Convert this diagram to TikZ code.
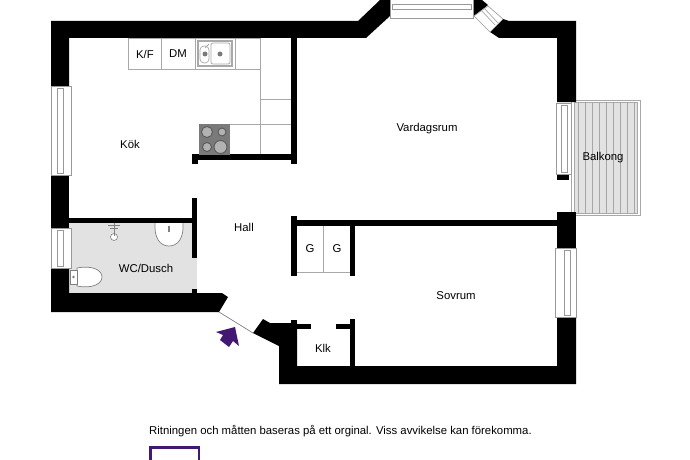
\documentclass[tikz,border=0pt]{standalone}
\usepackage{fontspec}
\setmainfont{Liberation Sans}
\usetikzlibrary{positioning}
\definecolor{arrowpurple}{HTML}{431870}
\definecolor{wetgray}{HTML}{E2E2E2}
\definecolor{fitgray}{HTML}{A8A8A8}
\definecolor{hobgray}{HTML}{7A7A7A}
\tikzset{
    wall/.style={fill=black,draw=none},
    fitting/.style={draw=fitgray,line width=0.7pt},
    winframe/.style={draw=gray!80,line width=0.6pt,fill=white},
    roomlabel/.style={font=\fontsize{11.35}{13}\selectfont,inner sep=0pt},
    burner/.style={draw=black!65,fill=black!30,line width=0.9pt}
}

\begin{document}
\begin{tikzpicture}[x=1pt,y=-1pt]
    \useasboundingbox (0,0) rectangle (690,460);

    % Balcony
    \draw[fitting,fill=white] (571,100) rectangle (640,215);
    \draw[fitting,fill=wetgray] (574,102.5) rectangle (637,213);
    \foreach \x in {578,585,592,599,606,613,620,627,634}
        \draw[fitting,line width=0.6pt,draw=black!35] (\x,102.5) -- (\x,213);

    % Bathroom floor
    \fill[wetgray] (69,223) rectangle (197,293);

    % Outer walls
    \fill[wall] (51,21) -- (358,21) -- (380,0) -- (390,0) -- (390,16) -- (366,38)
        -- (69,38) -- (69,86) -- (51,86) -- cycle; % Top left
    \fill[wall] (503,19) -- (509,21) -- (576,21) -- (576,102) -- (557,102) -- (557,38)
        -- (499,38) -- (490,32) -- cycle; % Top right
    \fill[wall] (473,0) -- (482,0) -- (488,5) -- (474,16) -- (473,16) -- cycle; % Bay pier
    \fill[wall] (557,175) rectangle (569,180); % Balcony door stop
    \fill[wall] (557,212) rectangle (576,248); % Right
    \fill[wall] (51,175) rectangle (69,228); % Left
    \fill[wall] (51,268) -- (69,268) -- (69,293) -- (222,293) -- (228,297)
        -- (219,312) -- (51,312) -- cycle; % Bottom left
    \fill[wall] (263,319) -- (270,323) -- (297,323) -- (297,366) -- (557,366)
        -- (557,317) -- (576,317) -- (576,384) -- (279,384) -- (279,346)
        -- (253,333) -- cycle; % Bottom right

    % Inner walls
    \fill[wall] (291,38) rectangle (297,164); % Kitchen right
    \fill[wall] (192,154) rectangle (291,159.5); % Kitchen bottom
    \fill[wall] (192,159) rectangle (197.5,164);
    \fill[wall] (69,218) rectangle (192,223); % Bathroom top
    \fill[wall] (192,198) rectangle (197,258); % Bathroom right
    \fill[wall] (192,289) rectangle (197,293);
    \fill[wall] (291,216) rectangle (297,276); % Closet left
    \fill[wall] (297,220) rectangle (557,226); % Bedroom top
    \fill[wall] (350,226) rectangle (355,276); % Closet right
    \fill[wall] (291,320) rectangle (297,324);
    \fill[wall] (297,324) rectangle (311,329); % Klk door
    \fill[wall] (336,324) rectangle (350,329);
    \fill[wall] (350,319) rectangle (355,366); % Klk right

    % Windows
    \draw[winframe] (51.5,86) rectangle (71.5,175);
    \draw[winframe] (57,88) rectangle (63,173);
    \draw[winframe] (51.5,228) rectangle (71.5,268);
    \draw[winframe] (57,230) rectangle (63,266);
    \draw[winframe] (390,-1) rectangle (473,18);
    \draw[winframe] (392,4) rectangle (471,9);
    \draw[winframe] (474,16) -- (488,6) -- (503,19) -- (490,32) -- cycle;
    \draw[fitting] (481,10) -- (495,25);
    \draw[fitting] (484,8) -- (498,23);
    \draw[winframe] (556,103) rectangle (571,174);
    \draw[winframe] (561,105) rectangle (567,172);
    \draw[winframe] (555,248) rectangle (576,317);
    \draw[winframe] (564,250) rectangle (570,315);

    % Entrance door
    \coordinate (doorhinge) at (219,312);
    \coordinate (doorend) at (253,333);
    \draw[draw=gray,line width=0.7pt] (doorhinge) -- (doorend);
    \fill[arrowpurple] (216,332) -- (235,327) -- (239,346) -- (233,341) -- (229,347)
        -- (220,340) -- (223,335) -- cycle;

    % Kitchen fittings
    \draw[fitting] (128,38) rectangle (260,69);
    \draw[fitting] (161,38) -- (161,69);
    \draw[fitting] (195,38) -- (195,69);
    \draw[fitting] (235,38) -- (235,69);
    \draw[fitting] (260,69) -- (260,154);
    \draw[fitting] (260,99) -- (291,99);
    \draw[fitting] (230,124) -- (291,124);
    \draw[fitting,line width=1.2pt] (198,41) rectangle (232,66); % Sink
    \draw[fitting,rounded corners=4pt] (200,46) rectangle (209,63);
    \draw[fitting,rounded corners=2pt] (211,43) rectangle (230,64);
    \draw[fitting,line width=1pt] (205,48) -- (209,44);
    \fill[hobgray] (205,54) circle (2.5);
    \fill[hobgray] (220,54) circle (2.5);
    \fill[hobgray] (199,124) rectangle (230,154.5); % Hob
    \draw[burner] (207,132) circle (5.5);
    \draw[burner] (222,132) circle (4);
    \draw[burner] (207,147) circle (4.5);
    \draw[burner] (220.5,147) circle (6.5);

    % Closet fittings
    \draw[fitting] (297,272) -- (350,272);
    \draw[fitting] (323,226) -- (323,272);

    % Bathroom fittings
    \draw[gray,line width=0.6pt,fill=white] (114,237) circle (3.5); % Shower
    \draw[gray,line width=1pt] (108,225) -- (120,225);
    \draw[gray,line width=1pt] (110,228) -- (118,228);
    \draw[gray,line width=1pt] (114,223) -- (114,236);
    \draw[gray,line width=0.7pt,fill=white] (155,223) .. controls (154,238) and (160,246) .. (169,246)
        .. controls (178,246) and (184,238) .. (183,223); % Basin
    \fill[gray] (168,226) rectangle (170,232);
    \draw[gray,line width=0.7pt,fill=white] (77,268) .. controls (92,265) and (102,270) .. (102,277)
        .. controls (102,284) and (92,289) .. (77,286) -- cycle; % Toilet
    \draw[gray,line width=0.7pt,fill=white] (70,270) rectangle (77,284);
    \fill[gray] (73.5,277) circle (1.3);

    % Text
    \node[roomlabel] (kok) at (130,144) {Kök};
    \node[roomlabel] (kf) at (145,54) {K/F};
    \node[roomlabel] (dm) at (178,54) {DM};
    \node[roomlabel] (vardagsrum) at (427,129) {Vardagsrum};
    \node[roomlabel] (balkong) at (603,157.5) {Balkong};
    \node[roomlabel] (hall) at (244,227) {Hall};
    \node[roomlabel] (wc) at (146,268) {WC/Dusch};
    \node[roomlabel] (g1) at (310,249) {G};
    \node[roomlabel] (g2) at (337,249) {G};
    \node[roomlabel] (sovrum) at (456,296) {Sovrum};
    \node[roomlabel] (klk) at (323,348) {Klk};
    \node[roomlabel,anchor=west] (note) at (149,431) {Ritningen och måtten baseras på ett orginal. Viss avvikelse kan förekomma.};

    % Logo frame
    \draw[arrowpurple,line width=2.6pt] (150.3,470) -- (150.3,447.3) -- (199,447.3) -- (199,470);
\end{tikzpicture}
\end{document}
